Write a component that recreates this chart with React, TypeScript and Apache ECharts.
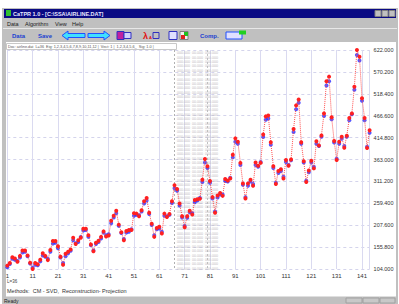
import React, { useEffect, useRef } from "react";
import * as echarts from "echarts";

// Monthly series (index 1..144)
const original = [
  112, 118, 132, 129, 121, 135, 148, 148, 136, 119, 104, 118,
  115, 126, 141, 135, 125, 149, 170, 170, 158, 133, 114, 140,
  145, 150, 178, 163, 172, 178, 199, 199, 184, 162, 146, 166,
  171, 180, 193, 181, 183, 218, 230, 242, 209, 191, 172, 194,
  196, 196, 236, 235, 229, 243, 264, 272, 237, 211, 180, 201,
  204, 188, 235, 227, 234, 264, 302, 293, 259, 229, 203, 229,
  242, 233, 267, 269, 270, 315, 364, 347, 312, 274, 237, 278,
  284, 277, 317, 313, 318, 374, 413, 405, 355, 306, 271, 306,
  315, 301, 356, 348, 355, 422, 465, 467, 404, 347, 305, 336,
  340, 318, 362, 348, 363, 435, 491, 505, 404, 359, 310, 337,
  360, 342, 406, 396, 420, 472, 548, 559, 463, 407, 362, 405,
  417, 391, 419, 461, 472, 535, 622, 606, 508, 461, 390, 432,
];

const reconstruction = [
  108, 116, 128, 126, 123, 131, 143, 145, 134, 117, 107, 114,
  113, 122, 136, 133, 128, 145, 164, 166, 153, 131, 118, 134,
  141, 147, 172, 165, 168, 180, 195, 196, 180, 160, 148, 163,
  168, 176, 190, 184, 186, 212, 226, 236, 206, 189, 175, 190,
  192, 198, 230, 232, 231, 240, 259, 266, 234, 208, 184, 198,
  200, 192, 230, 229, 232, 260, 295, 289, 254, 226, 206, 225,
  238, 236, 262, 266, 272, 310, 356, 343, 308, 271, 240, 273,
  280, 280, 312, 311, 320, 368, 405, 400, 350, 303, 274, 301,
  311, 305, 350, 346, 357, 416, 457, 460, 398, 343, 308, 331,
  336, 322, 357, 350, 361, 428, 482, 497, 400, 356, 313, 333,
  356, 346, 400, 395, 417, 466, 538, 548, 458, 403, 365, 400,
  412, 395, 417, 456, 470, 528, 610, 597, 502, 456, 393, 426,
];

const xMin = 1;
const xMax = 144;
const xStep = 10;
const yMin = 104;
const yMax = 622;
const yStep = 51.8;

const menuItems = ["Data", "Algorithm", "View", "Help"];
const menuX = [7, 25, 55, 72];

const FONT = "Liberation Sans, Arial, sans-serif";

function rect(x: number, y: number, w: number, h: number, fill: string, stroke?: string, z = 0) {
  return {
    type: "rect",
    z,
    shape: { x, y, width: w, height: h },
    style: { fill, stroke: stroke || "none", lineWidth: stroke ? 1 : 0 },
    silent: true,
  };
}

function text(x: number, y: number, str: string, size: number, color: string, weight = "normal", z = 0) {
  return {
    type: "text",
    z,
    x,
    y,
    style: {
      text: str,
      fill: color,
      fontSize: size,
      fontFamily: FONT,
      fontWeight: weight,
      textVerticalAlign: "middle",
      verticalAlign: "middle",
    },
    silent: true,
  };
}

export default function App() {
  const ref = useRef<HTMLDivElement>(null);

  useEffect(() => {
    if (!ref.current) return;
    const chart = echarts.init(ref.current, null, { renderer: "svg" });

    const redData = original.map((v, i) => [i + 1, v]);
    const blueData = reconstruction.map((v, i) => [i + 1, v]);

    const stripRows = new Array(50).fill("000.000  00.000  000.000").join("\n");

    const graphicElements: any[] = [
      // window frame (top)
      rect(2, 8, 396, 34, "#c0c0c0"),
      rect(4, 9, 392, 9, "#0a0a84"),
      rect(6, 10, 5, 6, "#30c030"),
      text(13, 13.5, "CaTPR 1.0 - [C:\\SSA\\AIRLINE.DAT]", 5.5, "#e8e8ff", "bold"),
      rect(375, 10.5, 6, 6, "#c0c0c0", "#808080"),
      rect(382, 10.5, 6, 6, "#c0c0c0", "#808080"),
      rect(389, 10.5, 6, 6, "#c0c0c0", "#808080"),
      // menu
      ...menuItems.map((m, i) => text(menuX[i], 23.5, m, 5.5, "#202020")),
      {
        type: "line",
        shape: { x1: 3, y1: 28.5, x2: 397, y2: 28.5 },
        style: { stroke: "#e8e8e8", lineWidth: 1 },
        silent: true,
      },
      // toolbar
      text(12, 35.5, "Data", 6, "#2040d0", "bold"),
      text(38, 35.5, "Save", 6, "#2040d0", "bold"),
      {
        type: "polygon",
        shape: { points: [[62, 35.5], [68, 31], [68, 33.5], [85, 33.5], [85, 37.5], [68, 37.5], [68, 40]] },
        style: { fill: "#40e0ff", stroke: "#2050ff", lineWidth: 1 },
        silent: true,
      },
      {
        type: "polygon",
        shape: { points: [[110, 35.5], [104, 31], [104, 33.5], [88, 33.5], [88, 37.5], [104, 37.5], [104, 40]] },
        style: { fill: "#40e0ff", stroke: "#2050ff", lineWidth: 1 },
        silent: true,
      },
      rect(117, 31.5, 7, 8, "#c020a0", "#3030c0"),
      rect(124, 32.5, 7, 6, "#d0d0ff", "#3030c0"),
      text(143, 35.5, "λ", 9, "#e01010", "bold"),
      text(149, 37.5, "A", 4, "#e01010", "bold"),
      rect(153, 32.5, 6, 6, "#c0c0c0", "#3030c0"),
      rect(169, 31.5, 8, 8, "#e0e0ff", "#3030c0"),
      rect(180, 31.5, 8, 8, "#f0f0f0", "#808080"),
      rect(184, 32, 4, 4, "#20c020"),
      rect(181, 35, 4, 4, "#e02020"),
      text(200, 35.5, "Comp.", 6, "#2040d0", "bold"),
      rect(226, 32, 16, 7, "#e0e0ff", "#2050ff"),
      rect(239, 30.5, 7, 4, "#20d020"),
      // left/right frame around white area
      rect(2, 42, 4, 262, "#c0c0c0"),
      rect(396, 42, 2, 262, "#c0c0c0"),
      // status bar
      rect(2, 296.5, 396, 8, "#c0c0c0"),
      text(4, 300.5, "Ready", 5, "#202020"),
      rect(346, 298, 16, 5, "#c8c8c8", "#a0a0a0"),
      rect(363, 298, 16, 5, "#c8c8c8", "#a0a0a0"),
      rect(380, 298, 15, 5, "#c8c8c8", "#a0a0a0"),
      // info row at top of chart
      rect(6.5, 43.5, 170, 6, "#ffffff", "#c8c8c8"),
      text(8, 46.5, "Doc: airline.dat  L=36  Eig: 1,2,3,4,5,6,7,8,9,10,11,12 |  Vect: 1 |  1,2,3,4,5,6_  Sig: 1.0 |", 3.8, "#555555"),
      // bottom texts
      text(7, 281.5, "L=36", 4.5, "#444444"),
      text(7, 291, "Methods:  CM - SVD,  Reconstruction- Projection", 5.5, "#333333"),
      // values strip
      {
        type: "line",
        z: 1,
        shape: { x1: 174.5, y1: 50, x2: 174.5, y2: 270 },
        style: { stroke: "#b0b0b0", lineWidth: 1, lineDash: [2, 2] },
        silent: true,
      },
      {
        type: "line",
        z: 1,
        shape: { x1: 207.5, y1: 50, x2: 207.5, y2: 270 },
        style: { stroke: "#c0c0c0", lineWidth: 1, lineDash: [2, 2] },
        silent: true,
      },
      {
        type: "text",
        z: 1,
        x: 177,
        y: 51,
        style: {
          text: stripRows,
          fill: "#bcbcbc",
          fontSize: 3.6,
          lineHeight: 4.4,
          fontFamily: FONT,
        },
        silent: true,
      },
    ];

    chart.setOption({
      animation: false,
      backgroundColor: "#ffffff",
      textStyle: { fontFamily: FONT },
      grid: { left: 7.3, right: 29.4, top: 50, bottom: 35, containLabel: false },
      xAxis: {
        type: "value",
        min: xMin,
        max: xMax,
        interval: xStep,
        axisLine: { show: false },
        axisTick: { show: false },
        axisLabel: { fontSize: 6, color: "#333333", margin: 4, showMaxLabel: false },
        splitLine: { show: true, lineStyle: { color: "#dadaf0", width: 1 } },
      },
      yAxis: {
        type: "value",
        position: "right",
        min: yMin,
        max: yMax,
        interval: yStep,
        axisLine: { show: false },
        axisTick: { show: false },
        axisLabel: {
          fontSize: 5.5,
          color: "#333333",
          margin: 4,
          formatter: (v: number) => v.toFixed(3),
        },
        splitLine: { show: true, lineStyle: { color: "#d4d4ec", width: 1, type: [3, 3] } },
      },
      graphic: { elements: graphicElements },
      series: [
        {
          type: "scatter",
          data: blueData,
          symbol: "circle",
          symbolSize: 4,
          itemStyle: { color: "#2a2aff" },
          z: 3,
        },
        {
          type: "line",
          data: redData,
          symbol: "circle",
          symbolSize: 4,
          showSymbol: true,
          itemStyle: { color: "#ff2020" },
          lineStyle: { color: "#ff5050", width: 1, type: "dotted" },
          z: 4,
        },
      ],
    });

    return () => chart.dispose();
  }, []);

  return (
    <div
      ref={ref}
      style={{ position: "fixed", left: 0, top: 0, width: 399, height: 304 }}
    />
  );
}
